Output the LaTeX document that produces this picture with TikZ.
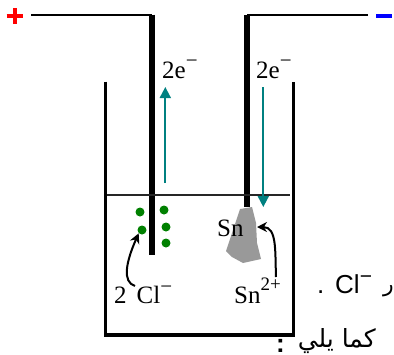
\documentclass[tikz,border=0pt]{standalone}
\usepackage{fontspec}
\setmainfont{Liberation Serif}
\newfontfamily\arialf{Liberation Sans}
\newfontfamily\arabicfont[Script=Arabic]{DejaVu Sans}
\TeXXeTstate=1
\usetikzlibrary{arrows.meta}
\definecolor{tealc}{RGB}{0,128,128}
\definecolor{greenc}{RGB}{0,128,0}
\newcommand{\supx}[2][13]{\raisebox{#1pt}{\fontsize{19}{19}\selectfont #2}}
\newcommand{\supm}[1][11]{\raisebox{#1pt}{\fontsize{21}{21}\selectfont −}}
\tikzset{
 wire/.style={line width=1.9pt,black},
 electrode/.style={line width=5.5pt,black},
 wall/.style={line width=3.2pt,black},
 eflow/.style={line width=1.8pt,tealc,-{Triangle[length=11pt,width=11pt]}},
 ion/.style={circle,fill=greenc,inner sep=0pt,minimum size=9pt},
 lab/.style={inner sep=0pt,font=\fontsize{25}{25}\selectfont},
 curvearrow/.style={line width=2pt,black,-{Stealth[length=10pt,width=10pt]}}
}
\begin{document}
\begin{tikzpicture}[x=1pt,y=-1pt]
\useasboundingbox (0,0) rectangle (394,354);
% wires and electrodes
\coordinate (wl0) at (31,15); \coordinate (wl1) at (152,15);
\coordinate (wr0) at (368,15); \coordinate (wr1) at (247,15);
\draw[wire] (wl0) -- (wl1);
\draw[wire] (wr0) -- (wr1);
\coordinate (el1) at (152,255); \coordinate (er1) at (247,207);
\draw[electrode] (152,14.5) -- (el1);
\draw[electrode] (247,14.5) -- (er1);
% signs
\draw[red,line width=3.6pt] (6.5,16) -- (23,16) (14.7,8) -- (14.7,24);
\draw[blue,line width=3.6pt] (376,16) -- (392,16);
% beaker
\draw[line width=1.2pt,black!85] (107,195) -- (290,195);
\draw[wall,line join=miter] (105.5,81.5) -- (105.5,335) -- (293.5,335) -- (293.5,81.5);
\draw[black,line width=2pt] (104,335.5) -- (295,335.5);
% sn
\fill[black!40] (240,209) -- (252,207) -- (256,223) -- (257,243) -- (261,259) -- (243,263) -- (232,257) -- (226,251) -- (232,233) -- cycle;
% flows
\coordinate (u0) at (165.3,183); \coordinate (u1) at (165.3,87);
\coordinate (d0) at (263.3,87); \coordinate (d1) at (263.3,207);
\draw[eflow] (u0) -- (u1);
\draw[eflow] (d0) -- (d1);
% ions
\node[ion] (i1) at (140,212) {};
\node[ion] (i2) at (164,210) {};
\node[ion] (i3) at (142,230) {};
\node[ion] (i4) at (166,227) {};
\node[ion] (i5) at (166,243) {};
% labels
\node[lab,anchor=base west] (ea) at (162,78) {2e\supm};
\node[lab,anchor=base west] (eb) at (256,78) {2e\supm};
\node[lab,anchor=base west] (sn) at (217,236) {Sn};
\node[lab,anchor=base west] (cl) at (114,303) {2\hspace{10pt}Cl\supm[10]};
\node[lab,anchor=base west] (sni) at (234,303) {Sn\supx{2+}};
% curved arrows
\coordinate (ca0) at (135,286); \coordinate (sa0) at (276,277);
\draw[curvearrow] (ca0) .. controls (122,282) and (126,262) .. (i3.south west);
\draw[curvearrow] (sa0) .. controls (275,250) and (277,227) .. (257,227);
% text beside
\node[inner sep=0pt,anchor=base west,font=\arialf\fontsize{26}{26}\selectfont] (t1) at (317,293) {.};
\node[inner sep=0pt,anchor=base west,font=\arialf\fontsize{26}{26}\selectfont] (t2) at (335,293) {Cl\supm[10]};
\begin{scope}
\clip (0,285) rectangle (394,354);
\node[inner sep=0pt,anchor=base east,font=\arabicfont\fontsize{22}{22}\selectfont] (t3) at (394,291) {\beginR ر\endR};
\end{scope}
\node[inner sep=0pt,anchor=base east,font=\arabicfont\fontsize{25}{25}\selectfont] (t4) at (376,347) {\beginR كما يلي\endR};
\node[inner sep=0pt,anchor=base west,font=\arialf\bfseries\fontsize{26}{26}\selectfont] (t5) at (276,352) {:};
\end{tikzpicture}
\end{document}
